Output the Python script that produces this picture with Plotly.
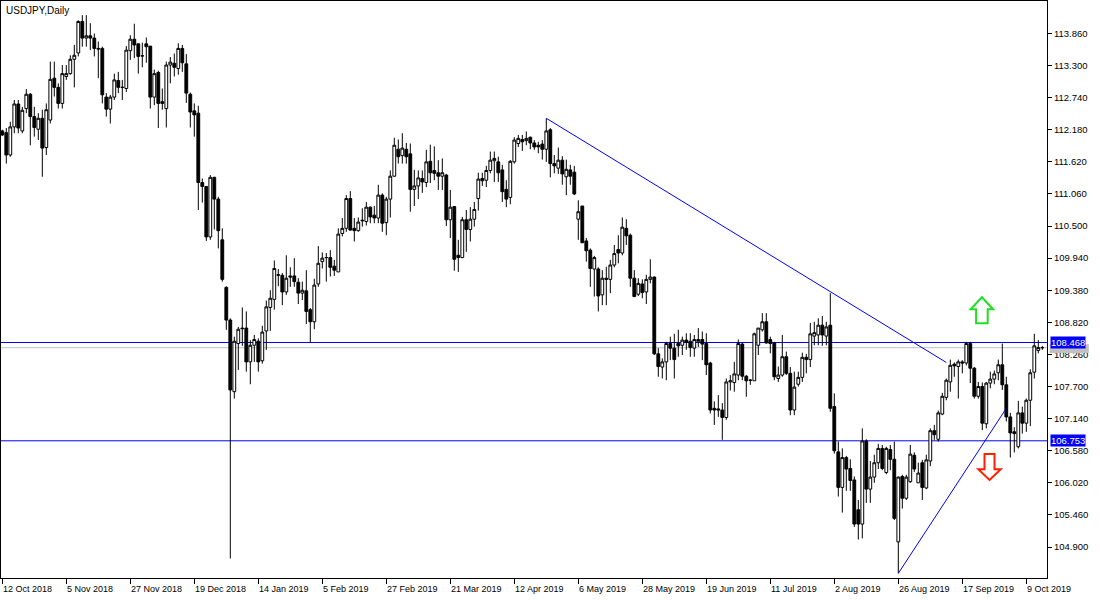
import plotly.graph_objects as go
import pandas as pd

# ---------------- data (USDJPY daily) ----------------
open_ = [
 112.16,112.13,111.74,112.23,112.63,112.16,112.55,112.80,112.41,112.19,
 112.38,111.87,112.35,113.08,112.92,112.64,113.11,113.16,113.41,113.52,
 114.07,113.78,113.82,113.78,113.60,113.60,112.75,112.54,112.75,113.04,
 112.92,112.90,113.56,113.76,113.68,113.47,113.68,113.64,112.75,113.18,
 112.67,112.55,113.31,113.34,113.25,113.60,113.33,112.80,112.51,112.47,
 111.26,111.19,110.31,111.35,110.97,110.26,109.43,108.86,107.61,108.45,
 108.72,108.72,108.13,108.42,108.49,108.15,108.67,109.08,109.22,109.64,
 109.64,109.35,109.63,109.63,109.52,109.33,109.37,109.04,108.83,109.49,
 109.88,109.95,109.95,109.80,109.70,110.37,110.46,110.98,110.46,110.42,
 110.59,110.58,110.83,110.69,110.64,111.04,110.56,110.97,111.37,111.84,
 111.73,111.84,111.76,111.14,111.20,111.33,111.26,111.63,111.47,111.43,
 111.37,111.39,110.61,110.84,109.99,109.95,110.61,110.44,110.62,110.98,
 111.33,111.30,111.47,111.64,111.62,111.48,111.14,111.00,111.62,111.94,
 112.01,111.99,112.05,111.95,111.91,111.93,111.84,112.18,111.59,111.51,
 111.65,111.36,111.48,111.44,110.62,110.85,110.24,110.08,109.75,109.75,
 109.30,109.59,109.57,109.82,110.09,110.03,110.46,110.34,109.59,109.31,
 109.49,109.35,109.57,109.61,108.27,108.04,108.13,108.45,108.37,108.45,
 108.42,108.51,108.49,108.37,108.48,108.52,108.45,108.11,107.32,107.31,
 107.29,107.16,107.78,107.77,107.90,108.44,107.88,107.81,107.80,108.42,
 108.69,108.83,108.52,108.46,107.84,107.90,108.22,107.93,107.29,107.74,
 107.86,108.21,108.17,108.58,108.60,108.77,108.58,108.77,107.35,106.56,
 105.94,106.46,106.27,106.07,105.55,105.30,106.75,105.91,106.12,106.37,
 106.62,106.20,106.60,106.43,104.99,106.13,105.75,106.04,106.50,106.02,
 106.37,105.93,106.40,106.93,106.78,107.22,107.51,107.78,108.09,108.05,
 108.13,108.11,108.45,108.02,107.53,107.70,107.05,107.76,107.83,107.94,
 108.08,107.73,107.17,106.91,106.65,107.24,107.06,107.46,107.95,108.33,
 108.38]
high = [
 112.18,112.21,112.32,112.70,112.70,112.58,112.89,112.82,112.58,112.47,
 112.53,112.64,113.37,113.37,112.99,113.31,113.31,113.48,113.66,114.09,
 114.18,114.18,114.04,113.86,113.72,113.63,112.82,112.79,113.16,113.19,
 113.05,113.64,113.83,114.03,113.68,113.70,113.79,113.64,113.23,113.21,
 112.90,113.37,113.45,113.51,113.69,113.66,113.50,112.83,112.64,112.60,
 111.33,111.20,111.39,111.36,111.01,110.46,109.45,108.89,108.57,108.74,
 109.08,109.01,108.51,108.60,108.54,108.76,109.20,109.38,109.90,109.75,
 109.68,109.99,109.78,109.94,109.59,109.53,109.73,109.07,109.58,110.15,
 110.04,110.03,110.08,109.91,110.46,110.64,111.04,111.11,110.64,110.65,
 110.81,110.92,110.84,110.85,111.22,111.07,111.01,111.47,112.04,112.01,
 112.12,111.95,111.94,111.48,111.47,111.47,111.83,111.92,111.89,111.65,
 111.68,111.41,111.13,110.85,110.26,110.66,110.78,110.83,110.92,111.43,
 111.43,111.55,111.80,111.80,111.71,111.57,111.30,111.65,112.05,112.09,
 112.09,112.15,112.06,112.00,111.97,112.00,112.38,112.21,111.74,111.87,
 111.72,111.66,111.57,111.55,110.95,110.85,110.29,110.11,109.98,109.78,
 109.73,109.79,109.91,110.17,110.34,110.65,110.62,110.37,109.73,109.59,
 109.57,109.65,109.92,109.62,108.37,108.19,108.48,108.57,108.62,108.69,
 108.57,108.63,108.63,108.60,108.72,108.66,108.63,108.13,107.44,107.55,
 107.41,107.84,107.90,108.13,108.52,108.46,107.90,107.83,108.64,108.72,
 108.98,108.98,108.57,108.48,108.05,108.60,108.31,108.04,107.96,107.96,
 108.29,108.27,108.81,108.83,108.89,108.93,108.83,109.33,107.58,106.74,
 106.62,106.49,106.43,106.13,105.72,106.97,106.78,106.40,106.51,106.70,
 106.68,106.65,106.68,106.74,106.13,106.16,106.16,106.68,106.55,106.37,
 106.42,106.51,106.97,107.03,107.28,107.59,107.84,108.17,108.12,108.17,
 108.16,108.48,108.48,108.04,107.78,107.77,107.78,107.96,107.98,108.17,
 108.45,107.87,107.24,106.99,107.45,107.35,107.49,108.00,108.62,108.51,
 108.41]
low = [
 112.07,111.59,111.71,112.12,112.12,112.12,112.47,111.91,112.06,112.00,
 111.36,111.74,112.29,112.76,112.55,112.55,113.05,113.14,112.92,113.46,
 113.63,113.63,113.57,113.46,113.08,112.64,112.41,112.29,112.70,112.82,
 112.70,112.84,113.40,113.43,113.16,113.27,113.35,112.55,112.61,112.21,
 112.53,112.22,112.99,113.11,113.14,113.19,112.65,112.22,112.06,110.78,
 110.91,110.24,110.26,110.44,110.11,109.53,108.69,104.70,107.49,107.99,
 108.41,107.96,107.74,108.13,107.96,108.10,108.34,108.67,109.04,109.45,
 109.12,109.30,109.44,109.44,109.14,109.21,108.79,108.47,108.70,109.44,
 109.76,109.53,109.62,109.63,109.70,110.32,110.40,110.42,110.23,110.40,
 110.49,110.51,110.55,110.55,110.55,110.40,110.34,110.65,111.36,111.59,
 111.59,111.59,110.75,110.85,110.97,111.08,111.18,111.25,111.30,111.13,
 111.13,110.50,110.29,109.72,109.70,109.94,110.05,110.23,110.49,110.77,
 111.20,111.18,111.42,111.27,111.27,110.92,110.83,110.88,111.59,111.88,
 111.81,111.91,111.84,111.83,111.77,111.66,111.62,111.35,111.42,111.41,
 111.22,111.04,111.22,111.04,110.26,110.20,109.88,109.44,109.27,109.01,
 109.12,109.12,109.33,109.78,109.85,109.99,110.17,109.44,109.26,109.28,
 109.24,109.14,109.50,108.25,107.87,107.84,107.81,108.16,107.84,108.22,
 108.25,108.34,108.22,108.22,108.39,108.16,107.90,107.23,107.03,107.17,
 106.77,107.12,107.63,107.61,107.81,107.81,107.52,107.73,107.80,108.25,
 108.66,108.45,108.28,107.81,107.78,107.87,107.90,107.20,107.20,107.70,
 107.78,107.93,108.04,108.42,108.42,108.41,108.42,107.26,106.53,105.78,
 105.50,105.88,105.88,105.25,105.03,105.05,105.67,105.67,106.02,106.26,
 106.24,106.17,106.24,105.37,104.44,105.57,105.72,106.02,106.21,106.02,
 105.72,105.91,106.31,106.77,106.74,107.20,107.46,107.61,107.87,107.49,
 107.93,108.07,107.76,107.49,107.49,106.94,106.97,107.67,107.74,107.81,
 107.64,107.09,106.46,106.55,106.62,106.88,106.91,107.01,107.84,108.28,
 108.34]
close = [
 112.09,111.74,112.23,112.63,112.21,112.52,112.80,112.41,112.22,112.38,
 111.86,112.53,113.06,112.92,112.64,113.16,113.16,113.41,113.48,114.07,
 113.78,113.82,113.78,113.60,113.59,112.79,112.54,112.75,113.05,112.92,
 112.92,113.57,113.76,113.66,113.46,113.47,113.63,112.75,113.16,112.64,
 112.64,113.31,113.36,113.27,113.60,113.35,112.82,112.49,112.44,111.26,
 111.19,110.31,111.35,110.97,110.42,109.57,108.86,107.64,108.49,108.70,
 108.71,108.13,108.42,108.52,108.13,108.65,109.09,109.24,109.76,109.65,
 109.35,109.59,109.61,109.53,109.33,109.38,109.01,108.83,109.47,109.85,
 109.94,109.95,109.78,109.73,110.36,110.46,110.98,110.43,110.42,110.57,
 110.60,110.83,110.66,110.64,111.04,110.55,110.97,111.37,111.91,111.71,
 111.86,111.71,111.14,111.20,111.34,111.27,111.62,111.43,111.42,111.37,
 111.43,110.61,110.83,109.92,109.95,110.61,110.44,110.62,110.79,111.32,
 111.29,111.47,111.65,111.68,111.43,111.10,110.97,111.63,112.00,112.03,
 111.97,112.03,111.95,111.88,111.88,111.84,112.16,111.59,111.55,111.65,
 111.41,111.49,111.37,111.06,110.75,110.21,110.07,109.76,109.95,109.28,
 109.59,109.57,109.82,110.02,110.03,110.48,110.33,109.59,109.27,109.50,
 109.34,109.57,109.61,108.27,108.05,108.13,108.45,108.37,108.17,108.41,
 108.51,108.47,108.38,108.52,108.52,108.44,108.08,107.29,107.29,107.29,
 107.16,107.78,107.80,107.92,108.45,107.88,107.80,107.81,108.62,108.72,
 108.83,108.46,108.45,107.87,107.90,108.22,107.93,107.29,107.69,107.86,
 108.21,108.17,108.62,108.64,108.77,108.60,108.74,107.32,106.58,105.94,
 106.46,106.26,106.06,105.30,105.30,106.75,105.91,106.12,106.37,106.62,
 106.27,106.62,106.43,105.40,106.12,105.75,106.12,106.52,106.26,106.19,
 105.94,106.42,106.93,106.86,107.24,107.53,107.81,108.07,108.06,108.13,
 108.11,108.45,108.02,107.53,107.70,107.06,107.76,107.83,107.92,108.08,
 107.73,107.17,106.89,106.88,107.24,107.06,107.46,107.94,108.41,108.38,
 108.377]

# trading calendar (Christmas and New Year closed)
dates = [d for d in pd.bdate_range("2018-10-12", "2019-10-15")
         if not (d.month == 12 and d.day == 25) and not (d.month == 1 and d.day == 1)]
bars = list(range(len(close)))
tick_every = 16
date_ticks = bars[::tick_every][:17]
date_labels = [f"{dates[i].day} {dates[i].strftime('%b %Y')}" for i in date_ticks]

price_ticks = [104.90, 105.46, 106.02, 106.58, 107.14, 107.70, 108.26, 108.82,
               109.38, 109.94, 110.50, 111.06, 111.62, 112.18, 112.74, 113.30, 113.86]
level_lines = [108.468, 106.753]
trend_down_x = [136, 236]
trend_down_y = [112.38, 108.12]
trend_up_x = [224, 251]
trend_up_y = [104.44, 107.32]
bid = close[-1]

FONT = "Liberation Sans"
BLUE = "#0000FF"

fig = go.Figure()
fig.add_trace(go.Candlestick(
    x=bars, open=open_, high=high, low=low, close=close,
    increasing=dict(line=dict(color="black", width=1), fillcolor="white"),
    decreasing=dict(line=dict(color="black", width=1), fillcolor="black"),
    whiskerwidth=0, hoverinfo="skip", showlegend=False))

shapes = []
for lv in level_lines:
    shapes.append(dict(type="line", xref="paper", x0=0, x1=1, yref="y", y0=lv, y1=lv,
                       line=dict(color=BLUE, width=1), layer="below"))
shapes.append(dict(type="line", xref="paper", x0=0, x1=1, yref="y", y0=bid, y1=bid,
                   line=dict(color="#C0C0C0", width=1), layer="below"))
shapes.append(dict(type="line", xref="x", yref="y", x0=trend_down_x[0], y0=trend_down_y[0],
                   x1=trend_down_x[1], y1=trend_down_y[1], line=dict(color=BLUE, width=1)))
shapes.append(dict(type="line", xref="x", yref="y", x0=trend_up_x[0], y0=trend_up_y[0],
                   x1=trend_up_x[1], y1=trend_up_y[1], line=dict(color=BLUE, width=1)))
# bid price box on the right scale (mostly hidden behind the blue level box)
shapes.append(dict(type="rect", xref="paper", x0=1.0025, x1=1.04, yref="y",
                   y0=bid - 0.09, y1=bid + 0.06, fillcolor="#C0C0C0", line=dict(width=0)))

def arrow(xc, y_tip, y_base, y_end, hw, sw):
    return (f"M {xc},{y_tip} L {xc+hw},{y_base} L {xc+sw},{y_base} L {xc+sw},{y_end} "
            f"L {xc-sw},{y_end} L {xc-sw},{y_base} L {xc-hw},{y_base} Z")

shapes.append(dict(type="path", xref="x", yref="y",
                   path=arrow(244.9, 109.257, 109.048, 108.803, 2.83, 1.45),
                   line=dict(color="#22DD22", width=2), fillcolor="white"))
shapes.append(dict(type="path", xref="x", yref="y",
                   path=arrow(246.8, 106.07, 106.256, 106.523, 2.8, 1.25),
                   line=dict(color="#FF2000", width=2), fillcolor="white"))

annotations = [dict(text="USDJPY,Daily", xref="paper", yref="paper", x=0, y=1,
                    xanchor="left", yanchor="top", xshift=3, yshift=-2, showarrow=False,
                    font=dict(family=FONT, size=10, color="black"))]
for t, lab in zip(date_ticks, date_labels):
    annotations.append(dict(text=lab, xref="x", yref="paper", x=t, y=0, xanchor="left",
                            yanchor="top", xshift=-1, yshift=-4, showarrow=False,
                            font=dict(family=FONT, size=9, color="black")))
for lv in level_lines:
    annotations.append(dict(text=f"{lv:.3f}", xref="paper", yref="y", x=1, y=lv,
                            xanchor="left", yanchor="middle", xshift=3, showarrow=False,
                            bgcolor=BLUE, borderpad=0,
                            font=dict(family=FONT, size=9.5, color="white")))

fig.update_layout(
    width=1100, height=600,
    margin=dict(l=1, r=53, t=1, b=22),
    paper_bgcolor="white", plot_bgcolor="white",
    showlegend=False, boxgap=0.3, boxgroupgap=0,
    shapes=shapes, annotations=annotations,
    xaxis=dict(range=[-0.325, 261.175], showgrid=False, zeroline=False,
               showline=True, linecolor="black", linewidth=1, mirror=True,
               ticks="outside", ticklen=5, tickcolor="black", tickwidth=1,
               tickvals=date_ticks, showticklabels=False,
               rangeslider=dict(visible=False), fixedrange=True),
    yaxis=dict(range=[104.359, 114.427], side="right", showgrid=False, zeroline=False,
               showline=True, linecolor="black", linewidth=1, mirror=True,
               ticks="outside", ticklen=4, tickcolor="black", tickwidth=1,
               tickvals=price_ticks, ticktext=[f"{v:.3f}" for v in price_ticks],
               tickfont=dict(family=FONT, size=9.5, color="black"), fixedrange=True),
)

fig.write_html("out.html", config={"displayModeBar": False},
               post_script="document.body.style.margin='0px';")
